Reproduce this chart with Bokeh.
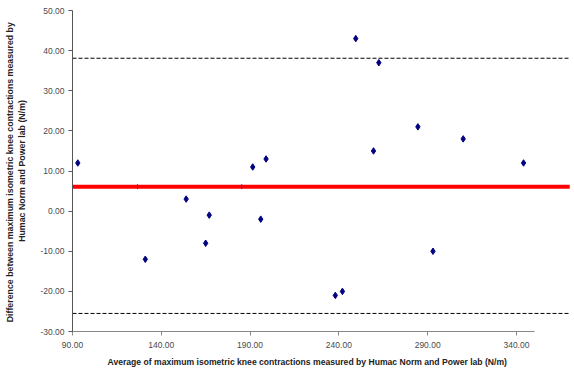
from bokeh.plotting import figure
from bokeh.models import FixedTicker, NumeralTickFormatter, Range1d, ColumnDataSource, Title
from bokeh.embed import file_html
from bokeh.resources import INLINE
import math

# Data
avg = [93, 131, 154, 165, 167, 191.5, 196, 199, 238, 242, 249.5, 259.5, 262.5, 284.5, 293, 310, 344]
diff = [12, -12, 3, -8, -1, 11, -2, 13, -21, -20, 43, 15, 37, 21, -10, 18, 12]
mean_diff = 6.1
upper_loa = 38.1
lower_loa = -25.5
line_x = [90, 370]
mean_marks_x = [126.6, 185.3]
x_ticks = [90, 140, 190, 240, 290, 340]
y_ticks = [-30, -20, -10, 0, 10, 20, 30, 40, 50]

x_title = "Average of maximum isometric knee contractions measured by Humac Norm and Power lab (N/m)"
y_title = "Difference between maximum isometric knee contractions  measured by\nHumac Norm and Power lab (N/m)"

p = figure(width=574, height=377, output_backend="svg", toolbar_location=None,
           x_range=Range1d(90, 371), y_range=Range1d(-30, 50),
           min_border_left=72, min_border_right=3, min_border_top=10, min_border_bottom=46)
p.xgrid.visible = False
p.ygrid.visible = False
p.outline_line_color = None
p.background_fill_color = "white"
p.border_fill_color = "white"

font = "Liberation Sans"
p.xaxis.ticker = FixedTicker(ticks=x_ticks)
p.yaxis.ticker = FixedTicker(ticks=y_ticks)
p.xaxis.formatter = NumeralTickFormatter(format="0.00")
p.yaxis.formatter = NumeralTickFormatter(format="0.00")
p.xaxis.bounds = (90, 350)
for ax in (p.xaxis, p.yaxis):
    ax.major_label_text_font = font
    ax.major_label_text_font_size = "8.5px"
    ax.major_label_text_color = "#4a4a4a"
    ax.axis_label_text_font = font
    ax.axis_label_text_font_style = "bold"
    ax.axis_label_text_color = "#222222"
    ax.minor_tick_line_color = None
    ax.major_tick_in = 0
    ax.major_tick_out = 4
p.yaxis.axis_label_text_font_size = "8.8px"
p.xaxis.axis_line_color = "#888888"
p.xaxis.major_tick_line_color = "#888888"
p.yaxis.axis_line_color = "#555555"
p.yaxis.major_tick_line_color = "#555555"
p.yaxis.axis_label = y_title
p.xaxis.major_label_standoff = 6
p.yaxis.major_label_standoff = 4
p.yaxis.axis_label_standoff = 10

xt = Title(text=x_title, align="left", offset=35, standoff=8,
           text_font=font, text_font_size="8.6px", text_font_style="bold",
           text_color="#222222")
p.add_layout(xt, "below")

# limits of agreement and mean
p.line(line_x, [upper_loa, upper_loa], line_color="black", line_dash="4 2", line_width=1)
p.line(line_x, [lower_loa, lower_loa], line_color="black", line_dash="4 2", line_width=1)
p.line(line_x, [mean_diff, mean_diff], line_color="#ff0000", line_width=4)
p.scatter(mean_marks_x, [mean_diff] * len(mean_marks_x), marker="dash", angle=math.pi / 2,
          size=5, line_color="#333399", line_width=1)

src = ColumnDataSource(dict(x=avg, y=diff))
p.scatter("x", "y", source=src, marker="diamond", size=6.5, fill_color="#000080", line_color="#000080")

open("out.html", "w").write(file_html(p, INLINE))
